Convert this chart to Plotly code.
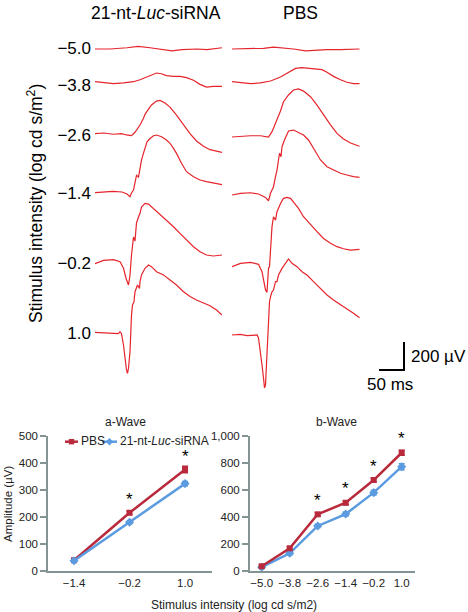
import plotly.graph_objects as go

# ---------------- ERG traces: time (ms) and amplitude (µV, relative to sweep baseline)
# 21-nt-Luc-siRNA column
luc_m50_t = [0, 30, 64, 86, 110, 134, 154, 174, 204, 224, 240, 254]
luc_m50_uv = [0, 0, 9, 19, 9, -5, -14, -5, 0, -5, 5, 9]
luc_m38_t = [0, 17, 37, 57, 77, 90, 107, 123, 133, 143, 157, 170, 183, 197, 210, 223, 237, 254]
luc_m38_uv = [0, -4, -14, -9, 0, 14, 38, 62, 57, 43, 38, 38, 29, 10, -19, -38, -33, -33]
luc_m26_t = [0, 17, 37, 53, 63, 73, 80, 90, 97, 100, 107, 113, 123, 130, 140, 150, 163, 177, 190, 203, 217, 230, 247, 254]
luc_m26_uv = [0, 5, -4, 0, -9, -14, 10, 62, 110, 138, 176, 205, 233, 238, 219, 190, 133, 67, 0, -52, -90, -114, -128, -133]
luc_m14_t = [0, 16, 36, 54, 64, 70, 73, 77, 80, 83, 87, 90, 93, 97, 100, 104, 110, 117, 123, 133,
             143, 150, 157, 163, 173, 183, 197, 210, 223, 237, 254]
luc_m14_uv = [0, 5, 10, 5, -9, -29, -2, 19, 69, 124, 112, 183, 233, 283, 319, 364, 387, 407, 412, 400,
              376, 353, 317, 281, 210, 150, 114, 91, 79, 67, 57]
luc_m02_t = [0, 17, 37, 50, 57, 62, 67, 70, 73, 77, 80, 83, 87, 90, 93, 100, 107, 113, 120, 130,
             143, 157, 170, 183, 197, 210, 223, 237, 254]
luc_m02_uv = [0, 24, 29, 14, -33, -104, -152, -81, 62, 191, 162, 291, 333, 360, 405, 431, 426, 407, 383, 348,
              312, 264, 217, 169, 121, 86, 62, 55, 62]
luc_p10_t = [0, 17, 30, 47, 50, 53, 57, 60, 63, 65, 67, 70, 71, 73, 75, 78, 80, 83, 85, 89,
             90, 93, 100, 107, 113, 123, 137, 150, 163, 177, 190, 203, 217, 230, 243, 254]
luc_p10_uv = [0, -5, -10, -10, 4, -10, -91, -186, -269, -293, -257, -138, -19, 123, 195, 219, 290, 314, 338, 314,
              362, 410, 457, 481, 469, 433, 410, 374, 338, 290, 255, 231, 207, 190, 159, 124]

# PBS column
pbs_m50_t = [0, 30, 63, 83, 103, 123, 147, 167, 190, 217, 237, 255]
pbs_m50_uv = [0, 0, 5, 14, 9, 0, -14, -9, -5, -5, -5, 0]
pbs_m38_t = [0, 17, 37, 57, 77, 97, 113, 127, 140, 153, 167, 180, 190, 203, 217, 230, 243, 255]
pbs_m38_uv = [0, -4, -14, -9, 5, 33, 67, 95, 100, 95, 95, 86, 67, 38, 14, -4, -14, -14]
pbs_m26_t = [0, 17, 37, 57, 73, 80, 87, 93, 97, 103, 113, 123, 133, 143, 157, 170, 183, 197, 210, 223, 237, 255]
pbs_m26_uv = [0, 5, 9, 9, 0, 38, 98, 157, 186, 252, 300, 336, 343, 328, 288, 228, 157, 86, 26, -14, -43, -66]
pbs_m14_t = [0, 17, 37, 53, 67, 73, 77, 80, 83, 87, 90, 93, 95, 98, 100, 105, 113, 123, 133, 143,
             153, 163, 177, 190, 203, 217, 230, 243, 255]
pbs_m14_uv = [0, 12, 16, 7, -17, -41, 12, 36, 59, 131, 178, 250, 298, 274, 345, 393, 457, 464, 448, 428,
              393, 333, 250, 202, 179, 155, 143, 131, 126]
pbs_m02_t = [0, 17, 37, 53, 60, 63, 67, 70, 72, 73, 75, 77, 78, 80, 83, 87, 90, 97, 103, 110,
             117, 123, 133, 143, 157, 170, 183, 197, 210, 223, 237, 255]
pbs_m02_uv = [0, 24, 31, 17, -36, -107, -166, -183, -83, -11, 0, 107, 190, 286, 357, 333, 393, 452, 488, 495,
              488, 464, 417, 357, 298, 250, 202, 167, 143, 128, 119, 124]
pbs_p10_t = [0, 17, 30, 50, 53, 57, 60, 63, 65, 67, 69, 72, 73, 75, 78, 80, 83, 87, 90, 93,
             100, 107, 113, 120, 130, 140, 150, 163, 177, 190, 203, 217, 230, 243, 255]
pbs_p10_uv = [0, 5, -5, 0, -21, -119, -214, -307, -378, -357, -214, -50, 119, 238, 286, 309, 321, 381, 381, 428,
              476, 512, 543, 512, 488, 452, 428, 381, 333, 286, 250, 214, 186, 155, 124]

intensity_labels = ["\u22125.0", "\u22123.8", "\u22122.6", "\u22121.4", "\u22120.2", "1.0"]
scale_ms = 50
scale_uv = 200

# ---------------- a-wave / b-wave amplitudes (µV)
a_categories = ["\u22121.4", "\u22120.2", "1.0"]
a_pbs = [40, 215, 375]
a_pbs_err = [5, 6, 12]
a_luc = [38, 180, 323]
a_luc_err = [4, 5, 8]
a_sig = [False, True, True]

b_categories = ["\u22125.0", "\u22123.8", "\u22122.6", "\u22121.4", "\u22120.2", "1.0"]
b_pbs = [35, 168, 419, 505, 672, 874]
b_pbs_err = [8, 12, 12, 15, 15, 18]
b_luc = [28, 131, 333, 421, 579, 771]
b_luc_err = [8, 12, 12, 15, 18, 22]
b_sig = [False, False, True, True, True, True]

# ---------------- layout helpers (pixel -> paper)
W, H = 468, 612
def px(x):
    return x / W
def py(y):
    return 1 - y / H

UV_PER_PX = 200 / 28.0      # vertical trace scale
Y_TOP, Y_BOT = 30, 395
def uv_at(pix_y):
    return -(pix_y - Y_TOP) * UV_PER_PX

left_rows_px = [49, 81.7, 133.7, 192.7, 263.7, 332.3]
right_rows_px = [49, 81.7, 137, 195, 266.7, 335]
label_rows_px = [48, 85, 135, 193, 263, 333]

TRACE_RED = "#e5242b"
PBS_COL = "#b82a3c"
LUC_COL = "#5b9be0"
AXIS_COL = "#849393"
FONT = "Arial, Liberation Sans, Helvetica, sans-serif"

fig = go.Figure()

left = [(luc_m50_t, luc_m50_uv), (luc_m38_t, luc_m38_uv), (luc_m26_t, luc_m26_uv),
        (luc_m14_t, luc_m14_uv), (luc_m02_t, luc_m02_uv), (luc_p10_t, luc_p10_uv)]
right = [(pbs_m50_t, pbs_m50_uv), (pbs_m38_t, pbs_m38_uv), (pbs_m26_t, pbs_m26_uv),
         (pbs_m14_t, pbs_m14_uv), (pbs_m02_t, pbs_m02_uv), (pbs_p10_t, pbs_p10_uv)]

for (t, v), row in zip(left, left_rows_px):
    off = uv_at(row)
    fig.add_trace(go.Scatter(x=t, y=[off + a for a in v], mode="lines", xaxis="x", yaxis="y",
                             line=dict(color=TRACE_RED, width=1.2), showlegend=False, hoverinfo="skip"))
for (t, v), row in zip(right, right_rows_px):
    off = uv_at(row)
    fig.add_trace(go.Scatter(x=t, y=[off + a for a in v], mode="lines", xaxis="x2", yaxis="y",
                             line=dict(color=TRACE_RED, width=1.2), showlegend=False, hoverinfo="skip"))

# scale bar (drawn in trace units)
sb_t = (404 - 232) * 2
sb_y = uv_at(370)
fig.add_trace(go.Scatter(x=[sb_t, sb_t, sb_t - scale_ms], y=[sb_y + scale_uv, sb_y, sb_y],
                         mode="lines", xaxis="x2", yaxis="y", line=dict(color="black", width=2),
                         showlegend=False, hoverinfo="skip"))

# a-wave
fig.add_trace(go.Scatter(x=list(range(len(a_categories))), y=a_pbs, xaxis="x3", yaxis="y3",
                         mode="lines+markers", line=dict(color=PBS_COL, width=2.5),
                         marker=dict(symbol="square", size=6, color=PBS_COL),
                         error_y=dict(type="data", array=a_pbs_err, color=PBS_COL, thickness=1.5, width=3),
                         showlegend=False))
fig.add_trace(go.Scatter(x=list(range(len(a_categories))), y=a_luc, xaxis="x3", yaxis="y3",
                         mode="lines+markers", line=dict(color=LUC_COL, width=2.5),
                         marker=dict(symbol="diamond", size=7, color=LUC_COL),
                         error_y=dict(type="data", array=a_luc_err, color=LUC_COL, thickness=1.5, width=3),
                         showlegend=False))
# b-wave
fig.add_trace(go.Scatter(x=list(range(len(b_categories))), y=b_luc, xaxis="x4", yaxis="y4",
                         mode="lines+markers", line=dict(color=LUC_COL, width=2.5),
                         marker=dict(symbol="diamond", size=7, color=LUC_COL),
                         error_y=dict(type="data", array=b_luc_err, color=LUC_COL, thickness=1.5, width=3),
                         showlegend=False))
fig.add_trace(go.Scatter(x=list(range(len(b_categories))), y=b_pbs, xaxis="x4", yaxis="y4",
                         mode="lines+markers", line=dict(color=PBS_COL, width=2.5),
                         marker=dict(symbol="square", size=6, color=PBS_COL),
                         error_y=dict(type="data", array=b_pbs_err, color=PBS_COL, thickness=1.5, width=3),
                         showlegend=False))

ann = []
# significance stars
for i, (v, e, s) in enumerate(zip(a_pbs, a_pbs_err, a_sig)):
    if s:
        ann.append(dict(x=i, y=v, xref="x3", yref="y3", text="*", showarrow=False, yshift=13,
                        font=dict(size=17, color="black", family=FONT)))
for i, (v, e, s) in enumerate(zip(b_pbs, b_pbs_err, b_sig)):
    if s:
        ann.append(dict(x=i, y=v, xref="x4", yref="y4", text="*", showarrow=False, yshift=14,
                        font=dict(size=17, color="black", family=FONT)))

def txt(x, y, s, size, xanchor="center", angle=0, color="black"):
    ann.append(dict(x=px(x), y=py(y), xref="paper", yref="paper", text=s, showarrow=False,
                    xanchor=xanchor, yanchor="middle", textangle=angle,
                    font=dict(size=size, color=color, family=FONT)))

txt(156, 13, "21-nt-<i>Luc</i>-siRNA", 17.5)
txt(300.5, 13, "PBS", 17.5)
txt(35, 204, "Stimulus intensity (log cd s/m<sup>2</sup>)", 17.5, angle=-90)
txt(409, 356, "200 \u00b5V", 17, xanchor="left")
txt(390, 384, "50 ms", 17)
txt(125, 422, "a-Wave", 12, color="#222")
txt(336, 422, "b-Wave", 12, color="#222")
txt(8, 504, "Amplitude (\u00b5V)", 11.5, angle=-90, color="#222")
txt(234, 605, "Stimulus intensity (log cd s/m2)", 12, color="#222")
txt(79, 441, "PBS", 12, xanchor="left", color="#222")
txt(118, 441, "21-nt-<i>Luc</i>-siRNA", 12, xanchor="left", color="#222")

shapes = [
    dict(type="line", xref="paper", yref="paper", x0=px(65), x1=px(78), y0=py(441.7), y1=py(441.7),
         line=dict(color=PBS_COL, width=2.5)),
    dict(type="rect", xref="paper", yref="paper", x0=px(68.8), x1=px(74.2), y0=py(444.4), y1=py(439),
         line=dict(width=0), fillcolor=PBS_COL),
    dict(type="line", xref="paper", yref="paper", x0=px(102), x1=px(117), y0=py(441.7), y1=py(441.7),
         line=dict(color=LUC_COL, width=2.5)),
    dict(type="path", xref="paper", yref="paper",
         path=f"M {px(109.5)} {py(438)} L {px(113.2)} {py(441.7)} L {px(109.5)} {py(445.4)} L {px(105.8)} {py(441.7)} Z",
         line=dict(width=0), fillcolor=LUC_COL),
]

bottom_y = dict(showline=True, linecolor=AXIS_COL, linewidth=2, ticks="outside", ticklen=6,
                tickwidth=2, tickcolor=AXIS_COL, showgrid=False, zeroline=False, automargin=False,
                tickfont=dict(size=11.5, color="#222", family=FONT),
                domain=[py(571), py(435.7)])
bottom_x = dict(showline=True, linecolor=AXIS_COL, linewidth=2, ticks="", showgrid=False,
                zeroline=False, automargin=False, tickfont=dict(size=11.5, color="#222", family=FONT))

fig.update_layout(
    width=W, height=H, autosize=False,
    margin=dict(l=0, r=0, t=0, b=0, pad=0, autoexpand=False),
    paper_bgcolor="white", plot_bgcolor="white",
    showlegend=False,
    xaxis=dict(domain=[px(95), px(222)], range=[0, 254], visible=False, anchor="y", automargin=False),
    xaxis2=dict(domain=[px(232), px(468)], range=[0, 472], visible=False, anchor="y", automargin=False),
    yaxis=dict(domain=[py(Y_BOT), py(Y_TOP)], range=[uv_at(Y_BOT), 0], anchor="x", automargin=False,
               tickvals=[uv_at(r) for r in label_rows_px], ticktext=intensity_labels,
               ticks="", showline=False, showgrid=False, zeroline=False,
               tickfont=dict(size=17, color="black", family=FONT), ticklabelstandoff=3),
    xaxis3=dict(domain=[px(48.3), px(211.7)], range=[-0.463, 2.48], anchor="y3",
                tickvals=list(range(len(a_categories))), ticktext=a_categories, **bottom_x),
    yaxis3=dict(range=[0, 500], anchor="x3", tickvals=[0, 100, 200, 300, 400, 500], **bottom_y),
    xaxis4=dict(domain=[px(250), px(415)], range=[-0.418, 5.475], anchor="y4",
                tickvals=list(range(len(b_categories))), ticktext=b_categories, **bottom_x),
    yaxis4=dict(range=[0, 1000], anchor="x4", tickvals=[0, 200, 400, 600, 800, 1000],
                tickformat=",", **bottom_y),
    annotations=ann,
    shapes=shapes,
)

fig.write_html("out.html", config={"displayModeBar": False, "responsive": False},
               post_script="document.body.style.margin='0';")
